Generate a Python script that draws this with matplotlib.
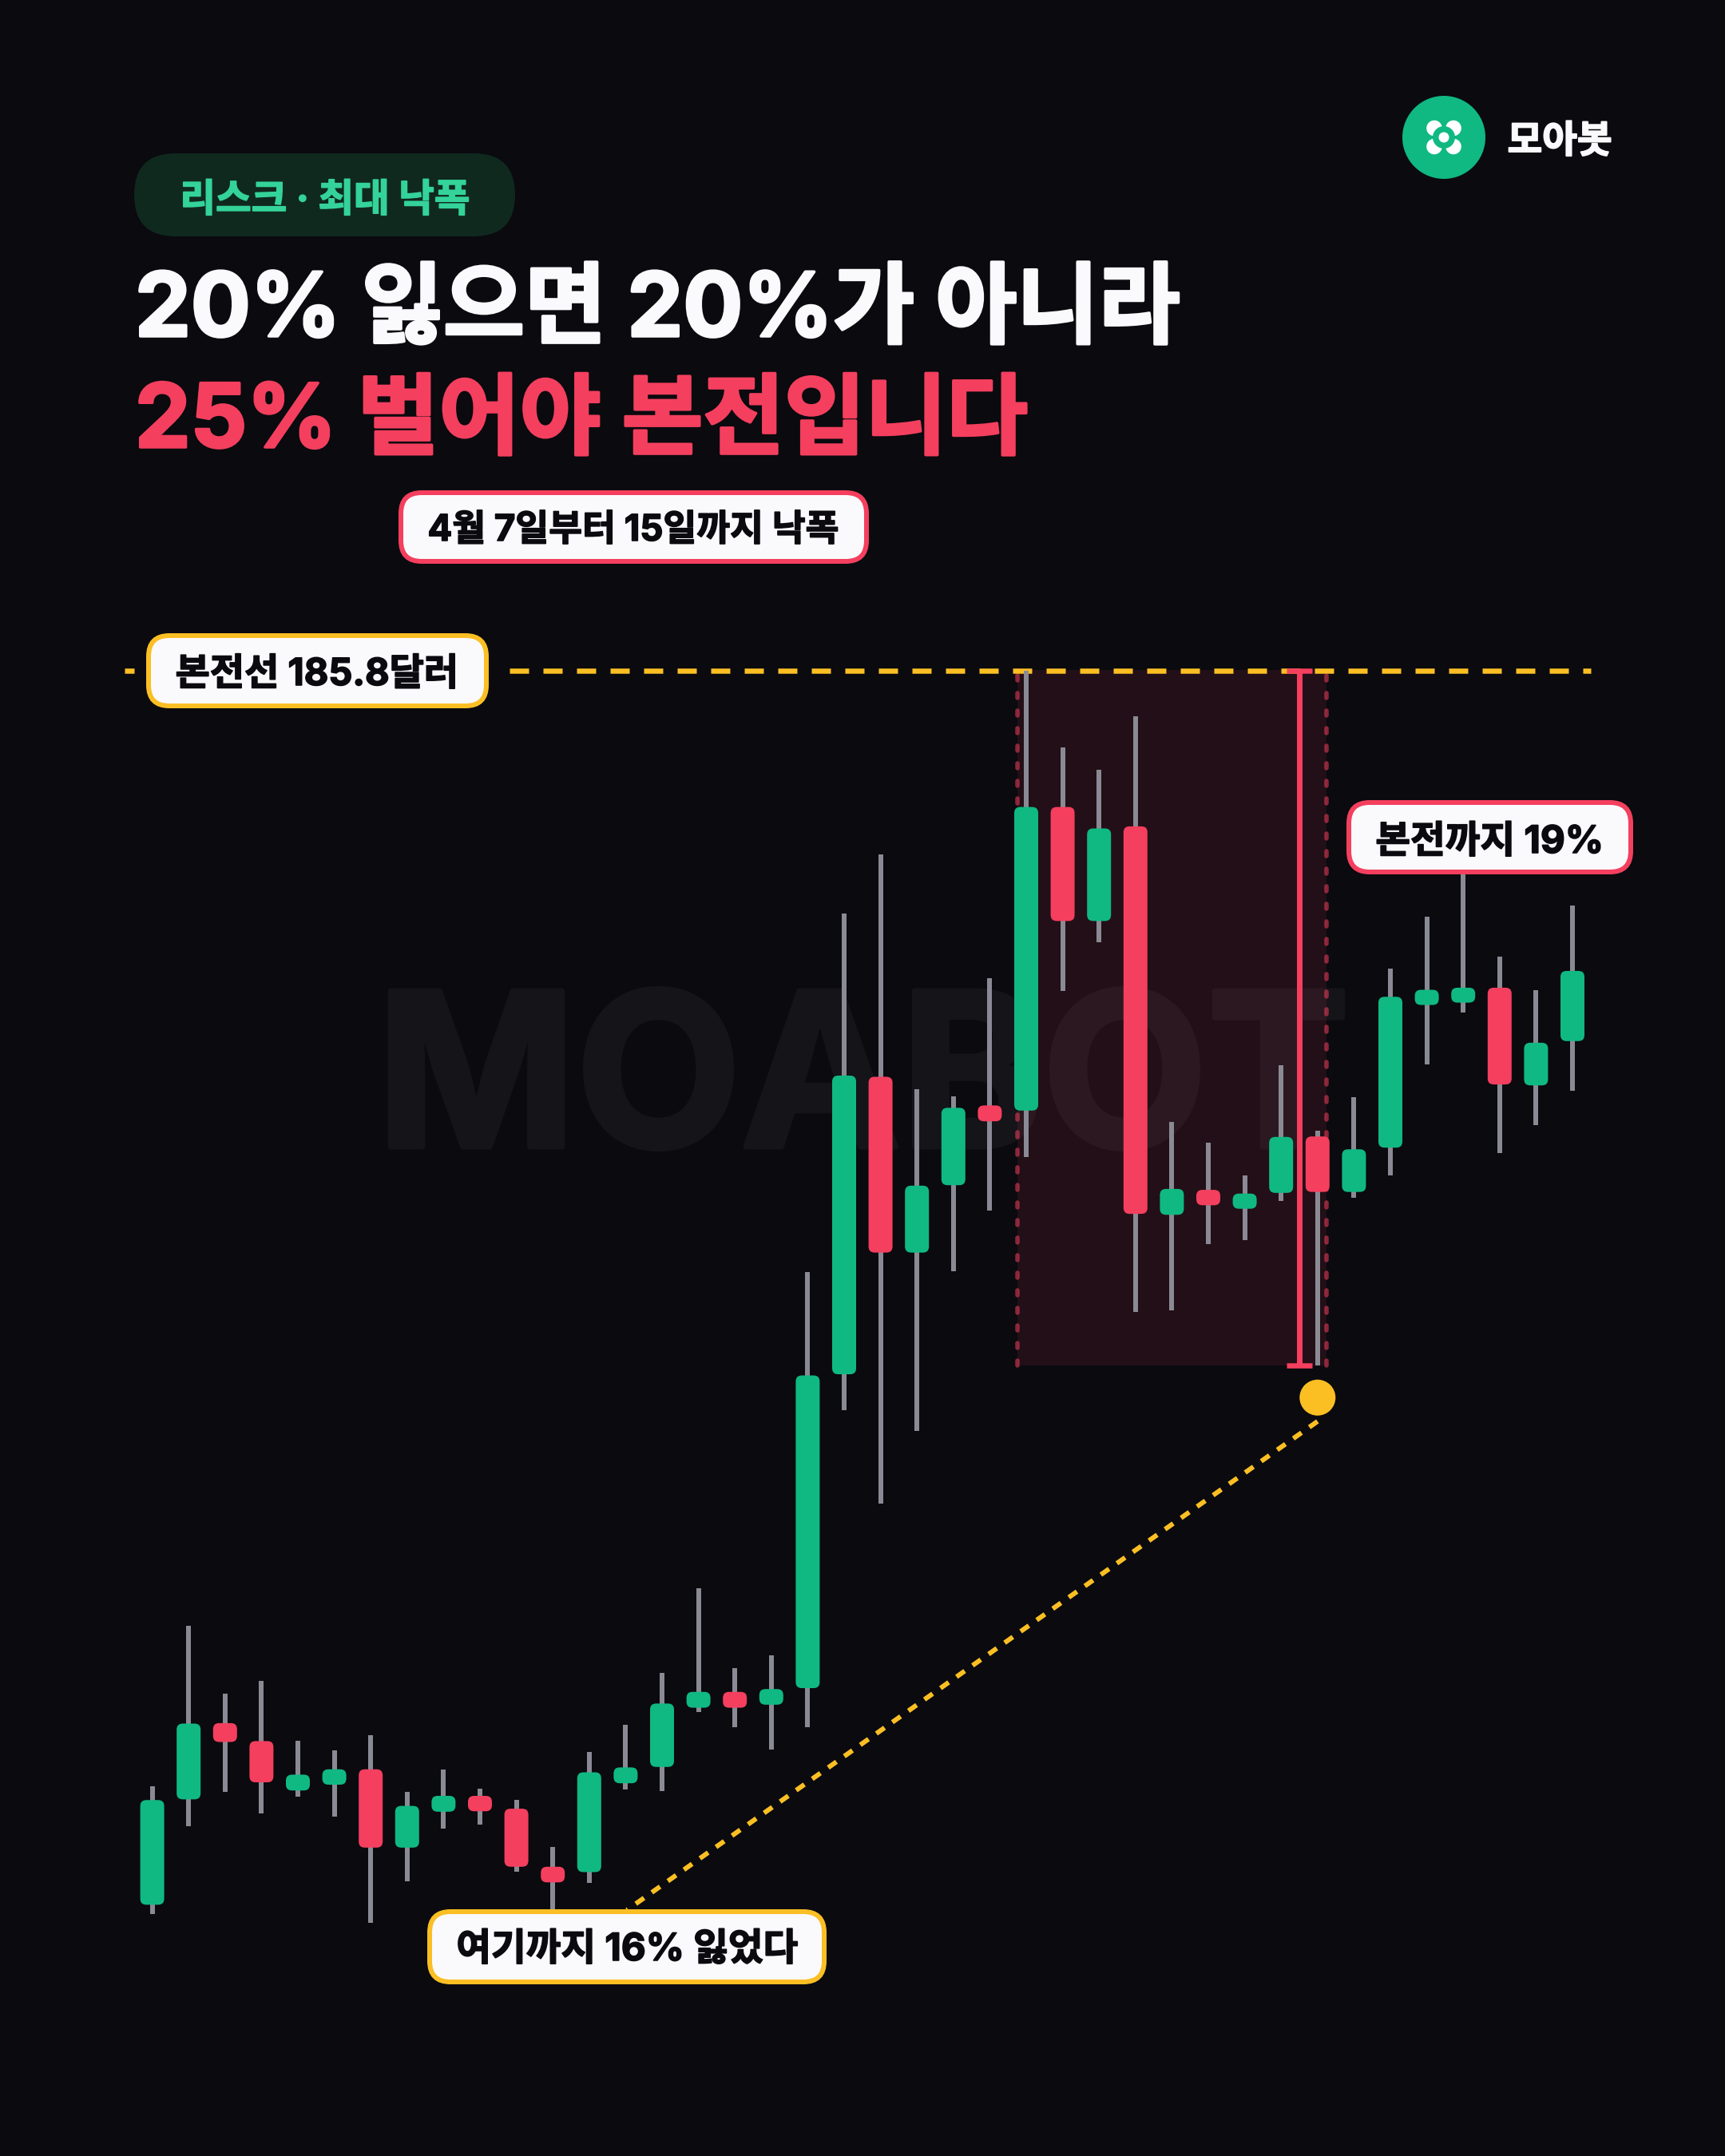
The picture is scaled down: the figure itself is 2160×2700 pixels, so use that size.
import matplotlib
matplotlib.use("Agg")
import matplotlib.pyplot as plt
import matplotlib.patheffects as pe
from matplotlib.patches import FancyBboxPatch, Rectangle, Circle

open_ = [132.86,137.38,140.65,139.88,137.76,138.01,138.67,135.31,136.85,137.53,136.98,134.49,134.26,138.07,138.77,141.31,141.99,141.44,142.15,155.61,168.37,160.83,163.72,167.14,166.92,179.94,175.05,179.11,162.45,163.52,162.71,163.39,165.81,163.43,165.33,171.45,171.55,172.19,168.00,169.90]
high  = [137.94,144.81,141.92,142.45,139.88,139.49,140.14,137.70,138.67,137.84,137.36,135.35,139.40,140.57,142.82,146.43,143.01,143.55,160.00,175.38,177.89,167.84,167.54,172.61,185.80,182.48,181.54,183.83,166.44,165.53,164.13,168.87,166.05,167.49,173.02,175.25,178.50,173.52,172.10,175.73]
low   = [132.46,136.24,137.70,136.79,137.48,136.63,132.10,133.88,136.14,136.29,134.26,132.40,133.81,137.82,137.73,141.12,140.48,139.50,140.49,154.08,150.08,153.17,160.03,162.64,164.91,172.06,174.15,158.30,158.36,161.18,161.35,163.06,155.98,163.19,164.13,168.89,171.14,165.11,166.29,167.78]
close = [137.35,140.63,139.84,138.11,138.44,138.67,135.31,137.10,137.53,136.87,134.49,133.82,138.54,138.75,141.49,141.99,141.31,142.11,155.56,168.42,160.83,163.70,167.04,166.46,179.94,175.05,179.02,162.49,163.56,162.86,163.36,165.79,163.43,165.26,171.80,172.10,172.19,168.04,169.83,172.91]
breakeven = 185.8
trough = 155.98
peak_index, trough_index = 24, 32
title_white = "20% 잃으면 20%가 아니라"
title_red = "25% 벌어야 본전입니다"
tag_text = "리스크 · 최대 낙폭"
brand = "모아봇"
note_range = "4월 7일부터 15일까지 낙폭"
note_be = "본전선 185.8달러"
note_need = "본전까지 19%"
note_lost = "여기까지 16% 잃었다"

BG, GREEN, RED, AMBER, WICK, PAPER = "#0A0A0F", "#10B981", "#F43F5E", "#FBBF24", "#8A8A94", "#FAFAFC"
FONT = ["Inter", "Noto Sans CJK KR", "DejaVu Sans"]
plt.rcParams["font.family"] = FONT

W, H = 2160, 2700
PX = 0.72
x0, dx, y_be, dy = 190.6, 45.6, 839.5, 29.2

fig = plt.figure(figsize=(W/100, H/100), dpi=100, facecolor=BG)
ax = fig.add_axes([0, 0, 1, 1], facecolor=BG)
ax.set_xlim((0-x0)/dx, (W-x0)/dx)
ax.set_ylim(breakeven-(H-y_be)/dy, breakeven+y_be/dy)
ax.axis("off")
lay = fig.add_axes([0, 0, 1, 1], facecolor="none")
lay.set_xlim(0, W); lay.set_ylim(H, 0); lay.axis("off")

def heavy(color, px):
    return [pe.withStroke(linewidth=px*PX, foreground=color)]

# watermark
ax.text((1081-x0)/dx, breakeven-(1436-y_be)/dy, "MOABOT", color="#141419",
        fontsize=268*PX, fontweight="bold", ha="center", va="baseline", zorder=0.5,
        path_effects=heavy("#141419", 7))

# drawdown band
bl, br = peak_index-0.24, trough_index+0.24
ax.add_patch(Rectangle((bl, trough), br-bl, breakeven-trough, fc=RED, alpha=0.11, ec="none", zorder=1))
for xx in (bl, br):
    ax.plot([xx, xx], [trough, breakeven], color=RED, alpha=0.55, lw=5.5*PX, ls=(0, (1.1, 2.9)),
            dash_capstyle="round", zorder=3)

# breakeven line
ax.plot([(156-x0)/dx, (168-x0)/dx], [breakeven]*2, color=AMBER, lw=6.5*PX, solid_capstyle="butt", zorder=3)
ax.plot([(638-x0)/dx, (1992-x0)/dx], [breakeven]*2, color=AMBER, lw=6.5*PX,
        ls=(0, (24/6.5, 18/6.5)), dash_capstyle="butt", zorder=3)

# candles
xs = list(range(len(open_)))
ax.vlines(xs, low, high, color=WICK, lw=6*PX, capstyle="butt", zorder=4)
aspect = dx/dy
for i in xs:
    top, bot = max(open_[i], close[i]), min(open_[i], close[i])
    hpx = (top-bot)*dy
    r = min(7.5, hpx/2)
    ax.add_patch(FancyBboxPatch((i-15/dx, bot), 30/dx, top-bot,
                 boxstyle=f"round,pad=0,rounding_size={r/dx}", mutation_aspect=aspect,
                 fc=GREEN if close[i] >= open_[i] else RED, ec="none", zorder=5))

# red range bracket
xb = trough_index-0.5
ax.plot([xb, xb], [trough, breakeven], color=RED, lw=7*PX, solid_capstyle="butt", zorder=6)
for yy in (trough, breakeven):
    ax.plot([xb-16/dx, xb+16/dx], [yy, yy], color=RED, lw=6.5*PX, solid_capstyle="butt", zorder=6)

# link to dot
dot_y = trough-40/dy
ax.plot([trough_index, (785-x0)/dx], [breakeven-(1780-y_be)/dy, breakeven-(2392-y_be)/dy], color=AMBER,
        lw=6*PX, ls=(0, (2.1, 2.0)), dash_capstyle="butt", zorder=3)
lay.add_patch(Circle((x0+trough_index*dx, y_be+(breakeven-dot_y)*dy), 22.5, fc=AMBER, ec="none", zorder=7))

def label(x1, y1, x2, y2, edge, text, cx, base, size):
    lw = 6
    lay.add_patch(FancyBboxPatch((x1+lw/2, y1+lw/2), x2-x1-lw, y2-y1-lw,
                  boxstyle="round,pad=0,rounding_size=26", fc=PAPER, ec=edge, lw=lw*PX, zorder=8))
    lay.text(cx, base, text, color=BG, fontsize=size*PX, fontweight="bold", ha="center", va="baseline",
             zorder=9, path_effects=heavy(BG, 1.6))

label(499, 614, 1088, 706, RED, note_range, 793, 677, 45.5)
label(183, 793, 612, 887, AMBER, note_be, 397, 858, 47)
label(1686, 1002, 2045, 1095, RED, note_need, 1865, 1068, 47.5)
label(535, 2391, 1035, 2485, AMBER, note_lost, 785, 2455, 47.5)

# header
lay.add_patch(FancyBboxPatch((168, 192), 477, 104, boxstyle="round,pad=0,rounding_size=52", fc="#10291F", ec="none"))
lay.text(407, 265, tag_text, color="#34D399", fontsize=48.5*PX, fontweight="bold", ha="center", va="baseline",
         path_effects=heavy("#34D399", 1.6))
lay.text(169, 421, title_white, color=PAPER, fontsize=111*PX, fontweight="bold", ha="left", va="baseline",
         path_effects=heavy(PAPER, 3.5))
lay.text(169, 560, title_red, color=RED, fontsize=110.5*PX, fontweight="bold", ha="left", va="baseline",
         path_effects=heavy(RED, 3.5))

# logo
lay.add_patch(Circle((1808, 172), 52, fc=GREEN, ec="none"))
for sx in (-1, 1):
    for sy in (-1, 1):
        lay.add_patch(Circle((1808+sx*12, 172+sy*11.5), 9.8, fc="white", ec="none"))
lay.add_patch(Circle((1808, 172), 14, fc=GREEN, ec="none"))
lay.add_patch(Circle((1808, 172), 6.5, fc="white", ec="none"))
lay.text(1953, 191, brand, color=PAPER, fontsize=47.5*PX, fontweight="bold", ha="center", va="baseline",
         path_effects=heavy(PAPER, 1.8))

fig.savefig("out.png", dpi=100, facecolor=BG)
